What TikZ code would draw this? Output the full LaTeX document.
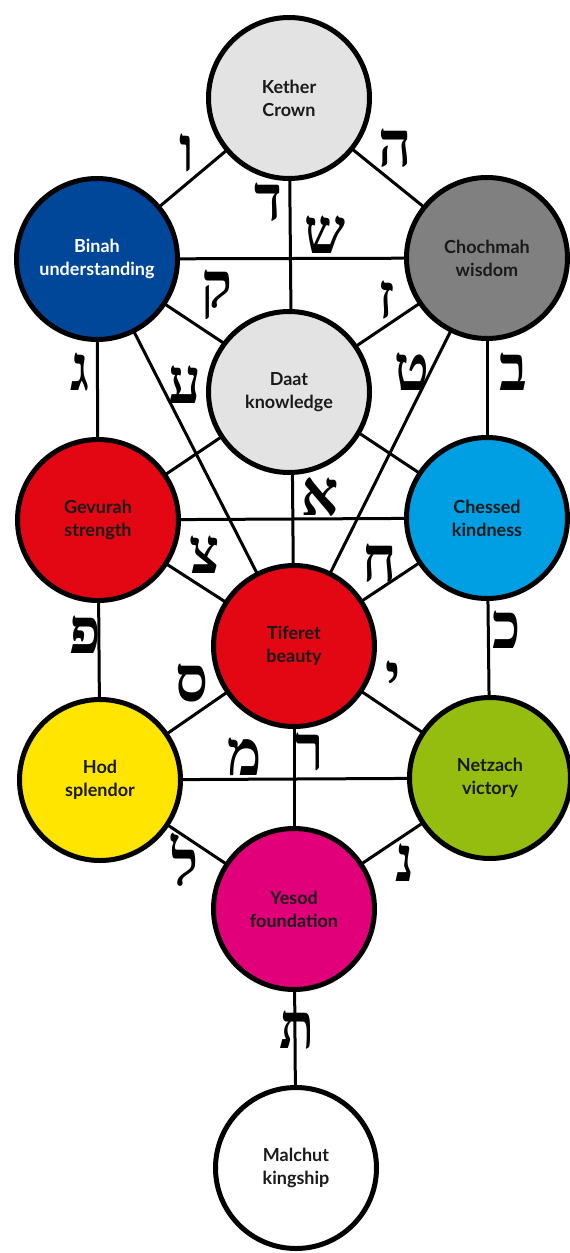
\documentclass[tikz,border=0pt]{standalone}
\usepackage{fontspec}
\setmainfont{Lato}
\newfontfamily\hebfont[Script=Hebrew]{Liberation Serif}
\usetikzlibrary{backgrounds}
\definecolor{txt}{HTML}{1A1A1A}
\definecolor{lgray}{HTML}{E3E3E3}
\definecolor{dgray}{HTML}{808081}
\definecolor{binahblue}{HTML}{00479A}
\definecolor{sefred}{HTML}{E30613}
\definecolor{cyanblue}{HTML}{009FE3}
\definecolor{hodyellow}{HTML}{FFE500}
\definecolor{netzgreen}{HTML}{95BD0F}
\definecolor{yesodmag}{HTML}{E2007A}
\begin{document}
\begin{tikzpicture}[x=1pt,y=-1pt,
  sef/.style={circle, draw=black, line width=5pt, minimum size=161pt, inner sep=0pt,
    align=center, font=\bfseries\fontsize{18}{23}\selectfont, text=txt},
  link/.style={line width=3pt, black},
  heb/.style={font=\hebfont\bfseries\fontsize{58}{58}\selectfont, inner sep=0pt, text=black, yscale=1.1}]
\useasboundingbox (0,0) rectangle (570,1253);

\node[sef, fill=lgray] (kether) at (289,98) {Kether\\Crown};
\node[sef, fill=binahblue, text=white] (binah) at (97,259) {Binah\\understanding};
\node[sef, fill=dgray] (chochmah) at (487,258) {Chochmah\\wisdom};
\node[sef, fill=lgray] (daat) at (289,392) {Daat\\knowledge};
\node[sef, fill=sefred] (gevurah) at (98,520) {Gevurah\\strength};
\node[sef, fill=cyanblue] (chessed) at (487,518) {Chessed\\kindness};
\node[sef, fill=sefred] (tiferet) at (294,646) {Tiferet\\beauty};
\node[sef, fill=hodyellow] (hod) at (100,780) {Hod\\splendor};
\node[sef, fill=netzgreen] (netzach) at (490,778) {Netzach\\victory};
\node[sef, fill=yesodmag] (yesod) at (294,909) {Yesod\\foundation};
\node[sef, fill=white] (malchut) at (296,1168) {Malchut\\kingship};

\begin{scope}[on background layer]
\draw[link] (kether.center) -- (binah.center);
\draw[link] (kether.center) -- (chochmah.center);
\draw[link] (kether.center) -- (tiferet.center);
\draw[link] (binah.center) -- (chochmah.center);
\draw[link] (binah.center) -- (chessed.center);
\draw[link] (chochmah.center) -- (gevurah.center);
\draw[link] (binah.center) -- (gevurah.center);
\draw[link] (chochmah.center) -- (chessed.center);
\draw[link] (binah.center) -- (tiferet.center);
\draw[link] (chochmah.center) -- (tiferet.center);
\draw[link] (gevurah.center) -- (chessed.center);
\draw[link] (gevurah.center) -- (tiferet.center);
\draw[link] (chessed.center) -- (tiferet.center);
\draw[link] (gevurah.center) -- (hod.center);
\draw[link] (chessed.center) -- (netzach.center);
\draw[link] (tiferet.center) -- (hod.center);
\draw[link] (tiferet.center) -- (netzach.center);
\draw[link] (tiferet.center) -- (yesod.center);
\draw[link] (hod.center) -- (netzach.center);
\draw[link] (hod.center) -- (yesod.center);
\draw[link] (netzach.center) -- (yesod.center);
\draw[link] (yesod.center) -- (malchut.center);
\end{scope}

\node[heb] (l1) at (187,153) {ו};
\node[heb] (l2) at (395,148) {ה};
\node[heb] (l3) at (268,202) {ד};
\node[heb] (l4) at (325,235) {ש};
\node[heb] (l5) at (217,295) {ק};
\node[heb] (l6) at (387,300) {ז};
\node[heb] (l7) at (80,372) {ג};
\node[heb] (l8) at (185,385) {ע};
\node[heb] (l9) at (412,372) {ט};
\node[heb] (l10) at (513,372) {ב};
\node[heb] (l11) at (320,497) {א};
\node[heb] (l12) at (205,555) {צ};
\node[heb] (l13) at (380,563) {ח};
\node[heb] (l14) at (85,635) {פ};
\node[heb] (l15) at (192,683) {ס};
\node[heb] (l16) at (507,630) {כ};
\node[heb] (l17) at (393,680) {י};
\node[heb] (l18) at (310,752) {ר};
\node[heb] (l19) at (245,757) {מ};
\node[heb] (l20) at (185,860) {ל};
\node[heb] (l21) at (405,863) {נ};
\node[heb] (l22) at (297,1030) {ת};
\end{tikzpicture}
\end{document}
